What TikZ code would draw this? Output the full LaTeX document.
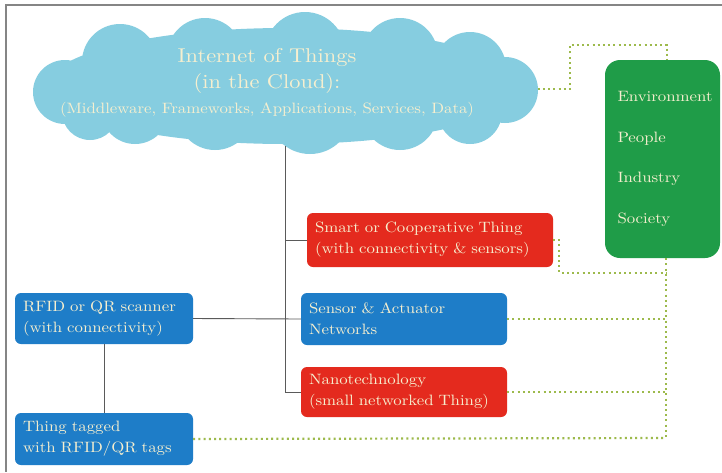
\documentclass[tikz,border=0pt]{standalone}
\usepackage{fontspec}
\setmainfont{lmroman10-regular.otf}[FakeStretch=1.12]
\definecolor{cloudc}{HTML}{86CDE0}
\definecolor{bluec}{HTML}{1E7DC8}
\definecolor{redc}{HTML}{E42A1E}
\definecolor{greenc}{HTML}{1F9C48}
\definecolor{txtc}{HTML}{F6EFCF}
\definecolor{dotc}{HTML}{9DBA4C}
\definecolor{framec}{HTML}{858585}
\definecolor{connc}{HTML}{5A5A5A}
\newcommand\boxfont{\fontsize{15}{21}\selectfont}
\newcommand\greenfont{\fontsize{15}{40.5}\selectfont}
\newcommand\titlefont{\fontsize{20}{25.5}\selectfont}
\newcommand\subtitlefont{\fontsize{15}{18}\selectfont}
\begin{document}
\begin{tikzpicture}[x=1pt,y=-1pt,
  thingbox/.style={rounded corners=6pt, align=left, text=txtc, font=\boxfont,
    inner xsep=8pt, inner ysep=0pt},
  conn/.style={draw=connc, line width=0.9pt},
  dotline/.style={draw=dotc, line width=2.2pt, dash pattern=on 2pt off 3.2pt}]
\useasboundingbox (0,0) rectangle (722,472);
\fill[white] (0,0) rectangle (722,472);
% frame
\draw[framec, line width=2.5pt] (722,5) -- (6,5) -- (6,472);

% cloud
\fill[cloudc]
  (285,86) ellipse [x radius=238, y radius=58]
  (65,92) circle [radius=32]
  (90,112) circle [radius=28]
  (120,62) circle [radius=38]
  (205,56) circle [radius=38]
  (305,52) circle [radius=40]
  (400,56) circle [radius=38]
  (470,68) circle [radius=36]
  (505,90) circle [radius=33]
  (470,112) circle [radius=32]
  (400,112) circle [radius=38]
  (310,112) circle [radius=42]
  (215,112) circle [radius=38]
  (135,110) circle [radius=34];
\node[minimum width=505, minimum height=120, inner sep=0pt] (cloud) at (285,86) {};
\node[text=txtc, align=center, font=\titlefont] (title) at (267,83)
  {Internet of Things\\(in the Cloud):\\{\subtitlefont (Middleware, Frameworks, Applications, Services, Data)}};

% boxes
\node[thingbox, fill=redc, minimum width=246, minimum height=54, text width=230] (smart) at (430,240)
  {Smart or Cooperative Thing\\(with connectivity \& sensors)};
\node[thingbox, fill=bluec, minimum width=206, minimum height=52, text width=190] (sensor) at (404,319)
  {Sensor \& Actuator\\Networks};
\node[thingbox, fill=redc, minimum width=206, minimum height=50, text width=190] (nano) at (404,392)
  {Nanotechnology\\(small networked Thing)};
\node[thingbox, fill=bluec, minimum width=178, minimum height=51, text width=162] (rfid) at (104,318.5)
  {RFID or QR scanner\\(with connectivity)};
\node[thingbox, fill=bluec, minimum width=178, minimum height=52, text width=162] (tagged) at (104,439)
  {Thing tagged\\with RFID/QR tags};
\node[rounded corners=15pt, fill=greenc, text=txtc, font=\greenfont, align=left,
  minimum width=115, minimum height=198, text width=90, inner xsep=0pt] (green) at (662.5,159)
  {Environment\\People\\Industry\\Society};

% gray tree connectors
\draw[conn] (cloud.south) -- (cloud.south |- nano.west) -- (nano.west);
\draw[conn] (cloud.south |- smart.west) -- (smart.west);
\draw[conn] (rfid.east) -- (sensor.west);
\draw[conn] (rfid.south) -- (tagged.north);

% dotted connectors
\coordinate (topc) at (667,45);
\coordinate (bus) at (666,438);
\draw[dotline] (cloud.east) ++(0,3) -- ++(32,0) |- (topc) -- (green.north -| topc);
\draw[dotline] (green.south -| bus) -- (bus);
\draw[dotline] (smart.east) -- ++(6,0) |- (666,273);
\draw[dotline] (sensor.east) -- (sensor.east -| bus);
\draw[dotline] (nano.east) -- (nano.east -| bus);
\draw[dotline] (tagged.east) -- (bus);
\end{tikzpicture}
\end{document}
